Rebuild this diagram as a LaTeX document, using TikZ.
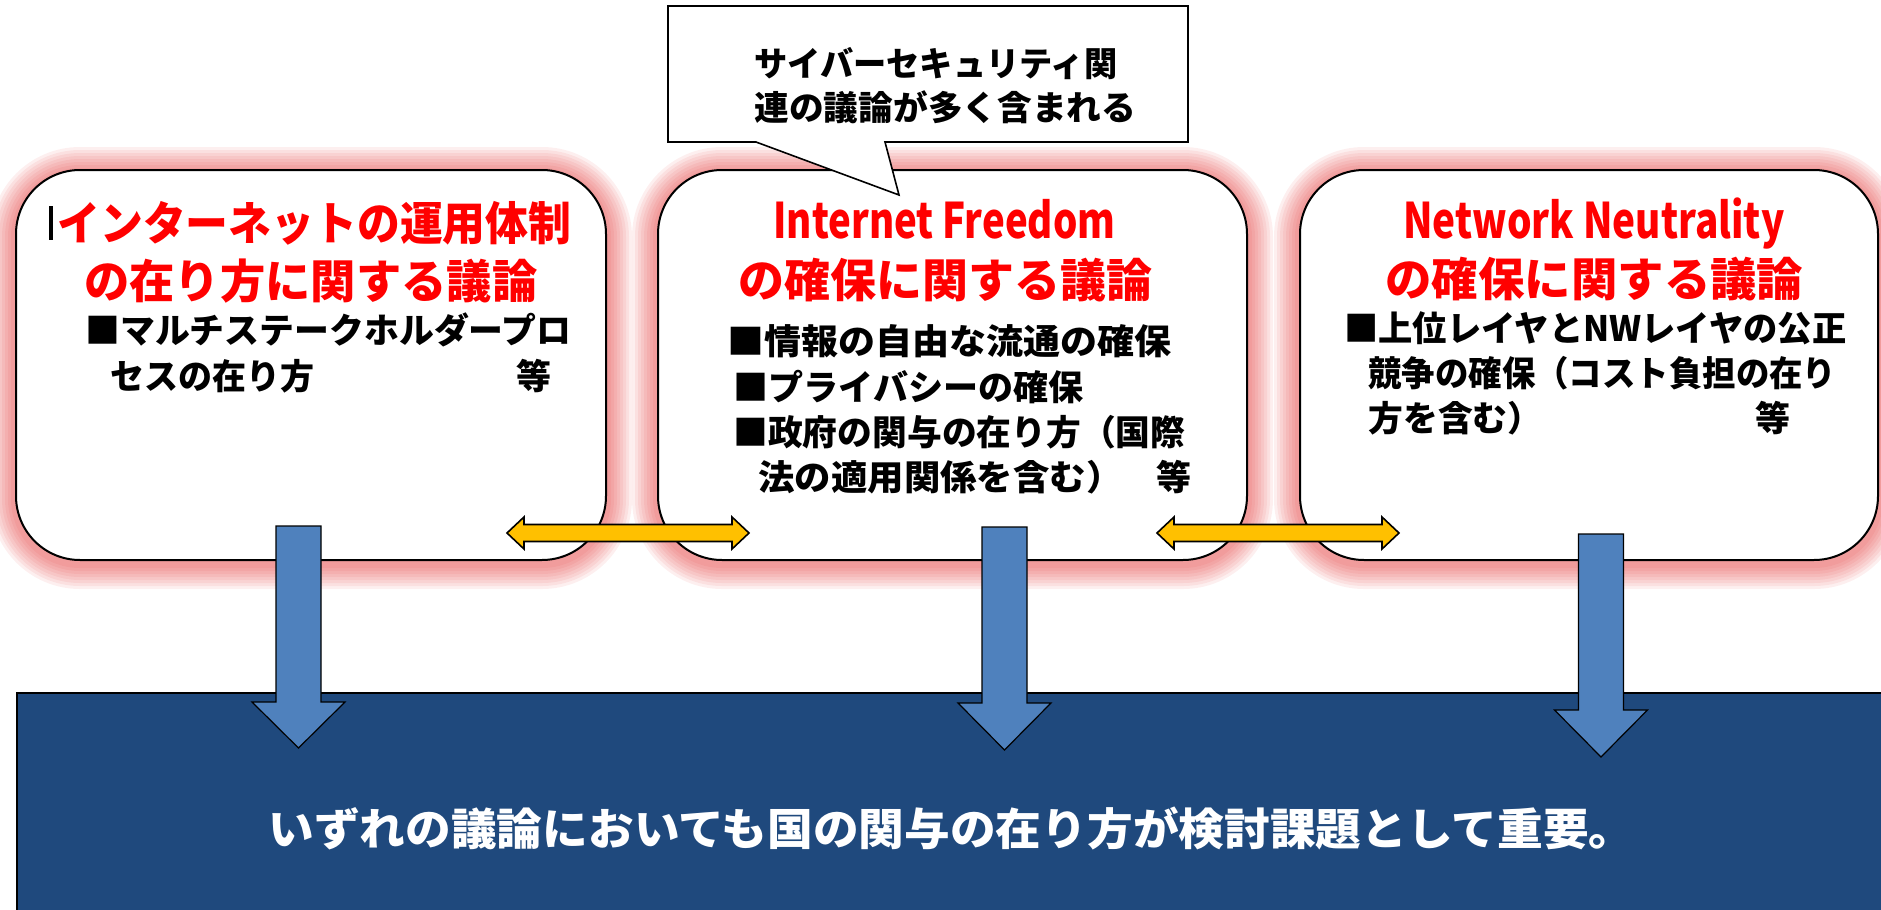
\documentclass[tikz,border=0pt]{standalone}
\usepackage{fontspec}
\setmainfont{Noto Sans CJK JP}
\usepackage{graphicx}
\definecolor{titlered}{RGB}{255,0,0}
\definecolor{glowred}{RGB}{225,40,40}
\definecolor{navy}{RGB}{31,73,125}
\definecolor{arrowblue}{RGB}{79,129,189}
\definecolor{gold}{RGB}{255,192,0}
\newcommand\fitw[2]{\resizebox{#1}{\height}{#2}}
\newcommand\blockdown[4]{\draw[bluearr] ({#1-22.5},#2) -- ({#1+22.5},#2) -- ({#1+22.5},#3) -- ({#1+46.5},#3) -- (#1,#4) -- ({#1-46.5},#3) -- ({#1-22.5},#3) -- cycle;}
\newcommand\blockboth[3]{\draw[yelarr] (#1,#3) -- ({#1+17},{#3-16}) -- ({#1+17},{#3-8.5}) -- ({#2-17},{#3-8.5}) -- ({#2-17},{#3-16}) -- (#2,#3) -- ({#2-17},{#3+16}) -- ({#2-17},{#3+8.5}) -- ({#1+17},{#3+8.5}) -- ({#1+17},{#3+16}) -- cycle;}
\tikzset{
  glowlayer/.style={preaction={draw=glowred, line width=#1, opacity=0.075, transform canvas={yshift=-1.5pt}}},
  glow/.style={glowlayer=26pt, glowlayer=23pt, glowlayer=20pt, glowlayer=17pt,
               glowlayer=14pt, glowlayer=11pt, glowlayer=8pt, glowlayer=5pt},
  discbox/.style={draw=black, line width=1pt, fill=white, rounded corners=32pt, inner sep=0pt, glow},
  callout/.style={draw=black, line width=0.8pt, fill=white},
  txt/.style={anchor=base west, inner sep=0pt},
  body/.style={txt, font=\bfseries\fontsize{17.5}{20}\selectfont},
  cbt/.style={txt, font=\bfseries\fontsize{17}{20}\selectfont},
  ttl/.style={txt, text=titlered, font=\bfseries\fontsize{23}{26}\selectfont},
  lat/.style={txt, text=titlered, font=\bfseries\fontsize{24.5}{28}\selectfont},
  concltxt/.style={txt, text=white, font=\bfseries\fontsize{22}{25}\selectfont},
  bluearr/.style={fill=arrowblue, draw=black, line width=0.6pt, line join=miter},
  yelarr/.style={fill=gold, draw=black, line width=0.8pt},
}
\begin{document}
\begin{tikzpicture}[x=0.5pt, y=-0.5pt]
\useasboundingbox (0,0) rectangle (1881,910);
% discussion boxes
\node[discbox, minimum width=295pt, minimum height=195pt] (b1) at (311,365) {};
\node[discbox, minimum width=294.5pt, minimum height=195pt] (b2) at (952.5,365) {};
\node[discbox, minimum width=289pt, minimum height=195pt] (b3) at (1589,365) {};
% callout
\draw[callout] (668,6) -- (1188,6) -- (1188,142) -- (885,142) -- (899,195) -- (756,142) -- (668,142) -- cycle;
\node[cbt] (c1) at (754,76) {\fitw{181.5pt}{サイバーセキュリティ関}};
\node[cbt] (c2) at (754,120) {\fitw{191pt}{連の議論が多く含まれる}};
% box 1 text
\fill (49,206) rectangle (53,240);
\node[ttl] (t1a) at (57,240) {\fitw{257pt}{インターネットの運用体制}};
\node[ttl] (t1b) at (84,298) {\fitw{226.5pt}{の在り方に関する議論}};
\node[body] (p1a) at (85,343) {\fitw{243pt}{■マルチステークホルダープロ}};
\node[body] (p1b) at (110,389) {\fitw{102pt}{セスの在り方}};
\node[body] (p1c) at (516,389) {等};
% box 2 text
\node[lat] (t2a) at (773,238) {\fitw{171pt}{Internet Freedom}};
\node[ttl] (t2b) at (738,297) {\fitw{207pt}{の確保に関する議論}};
\node[body] (p2a) at (727,354) {\fitw{222pt}{■情報の自由な流通の確保}};
\node[body] (p2b) at (733,400) {\fitw{175pt}{■プライバシーの確保}};
\node[body] (p2c) at (733,445) {\fitw{226pt}{■政府の関与の在り方（国際}};
\node[body] (p2d) at (758,490) {\fitw{182pt}{法の適用関係を含む）}};
\node[body] (p2e) at (1156,490) {等};
% box 3 text
\node[lat] (t3a) at (1403,238) {\fitw{190.5pt}{Network Neutrality}};
\node[ttl] (t3b) at (1385,296) {\fitw{209pt}{の確保に関する議論}};
\node[body] (p3a) at (1344,341) {\fitw{251pt}{■上位レイヤとNWレイヤの公正}};
\node[body] (p3b) at (1368,386) {\fitw{234pt}{競争の確保（コスト負担の在り}};
\node[body] (p3c) at (1368,431) {\fitw{87pt}{方を含む）}};
\node[body] (p3d) at (1755,431) {等};
% double arrows between boxes
\blockboth{507}{749}{533}
\blockboth{1157}{1399}{533}
% conclusion band
\node[fill=navy, draw=black, line width=1pt, inner sep=0pt, anchor=north west,
      minimum width=937pt, minimum height=115pt] (concl) at (16,692) {};
% down arrows
\blockdown{298.5}{526}{702}{748}
\blockdown{1004.5}{527}{703}{750}
\blockdown{1601}{534}{710}{757}
\node[concltxt] (ct) at (268,845) {\fitw{683pt}{いずれの議論においても国の関与の在り方が検討課題として重要。}};
\end{tikzpicture}
\end{document}
